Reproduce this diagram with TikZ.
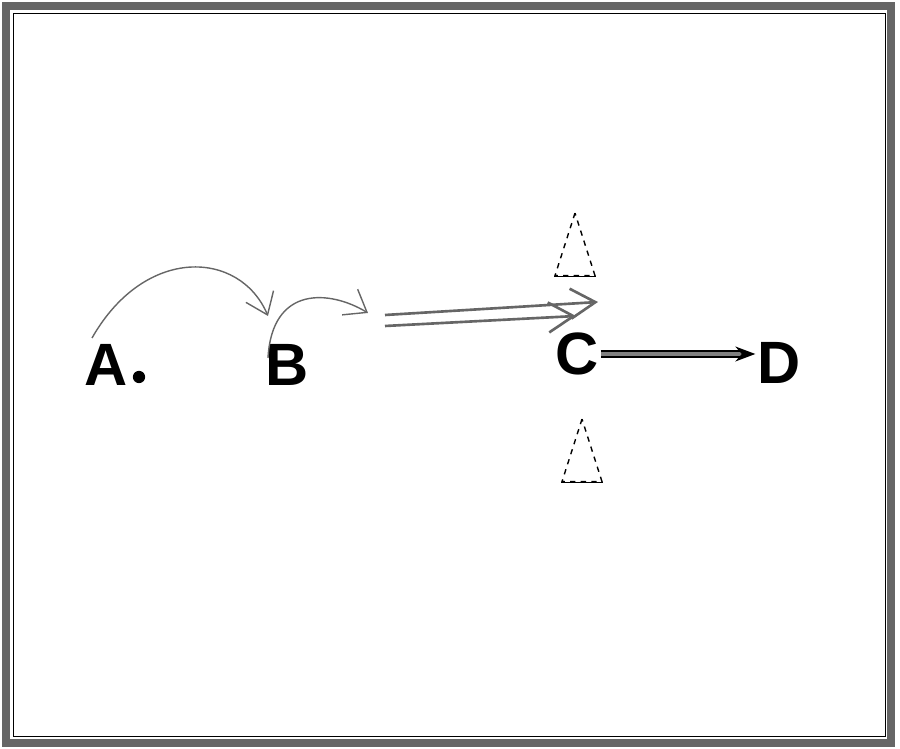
\documentclass[tikz,border=0pt]{standalone}
\usepackage{fontspec}
\setsansfont{Liberation Sans}
\usepackage{tikz}
\usetikzlibrary{shapes.geometric, arrows.meta}

\begin{document}
\begin{tikzpicture}[x=0.02cm, y=-0.02cm,
        letter/.style = {font=\fontsize{34}{38}\selectfont\sffamily\bfseries, inner sep=1pt},
        warn/.style = {draw, dashed, thick, isosceles triangle, isosceles triangle stretches,
                       shape border rotate=90, minimum width=0.8cm, minimum height=1.25cm, inner sep=0pt},
        curvy/.style = {draw=black!60, thick, -{Straight Barb[length=4mm, width=6mm]}},
        track/.style = {draw=black!60, line width=1.5pt, -{Straight Barb[length=5mm, width=6mm]}}]
                \useasboundingbox (0, 0) rectangle (900, 749);
                % frame
                \draw[black!60, line width=4pt] (6, 6) rectangle (891, 743);
                \draw[black, thin] (13, 13) rectangle (885, 736);

                \node[letter] at (106, 365) (A) {A};
                \node[fill, circle, inner sep=0pt, minimum size=7pt] at (139, 377) (e) {};
                \node[letter] at (287, 365) (B) {B};
                \node[letter] at (577, 354) (C) {C};
                \node[letter] at (779, 363) (D) {D};

                \node[warn] at (575, 261) (T1) {};
                \node[warn] at (582, 467) (T2) {};
                \draw[thick] (T1.left corner) -- (T1.right corner);
                \draw[thick] (T2.left corner) -- (T2.right corner);

                \coordinate (a1) at (92, 338);
                \coordinate (b1) at (268, 316);
                \coordinate (b2) at (268, 358);
                \coordinate (p1) at (368, 313);
                \coordinate (q1) at (385, 315);
                \coordinate (q2) at (598, 302);
                \coordinate (r1) at (385, 326);
                \coordinate (r2) at (576, 316);

                \draw [curvy] (a1) .. controls (145, 245) and (240, 250) .. (b1);
                \draw [curvy] (b2) .. controls (272, 285) and (330, 290) .. (p1);

                \draw [track] (q1) -- (q2);
                \draw [track] (r1) -- (r2);
                \draw [draw=black, double=black!50, double distance=2.5pt, line width=1pt, -{Stealth[length=4mm]}] (C.east) -- (D.west |- C.east);
            \end{tikzpicture}
\end{document}
